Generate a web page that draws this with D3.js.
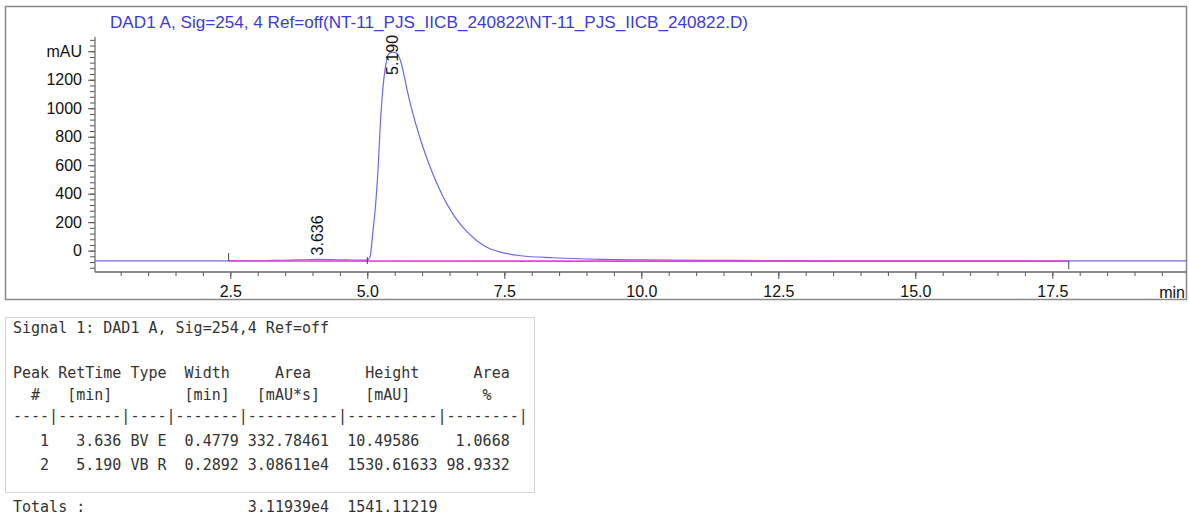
<!DOCTYPE html>
<html>
<head>
<meta charset="utf-8">
<script src="https://cdn.jsdelivr.net/npm/d3@7"></script>
<style>
  html, body { margin: 0; padding: 0; background: #fff; }
  svg { display: block; }
  .mono { font-family: "DejaVu Sans Mono", "Liberation Mono", monospace; font-size: 15px; fill: #333; white-space: pre; }
</style>
</head>
<body>
<svg id="chart" width="1189" height="517"></svg>
<script>
// ---- Signal trace (DAD1 A, 254 nm): retention time [min] and absorbance [mAU]
const traceTime = [0, 2.0, 2.5, 3.0, 3.3, 3.6, 3.9, 4.09, 4.3, 4.6, 4.9, 5.0, 5.05, 5.10, 5.16, 5.20, 5.23, 5.27,
  5.34, 5.38, 5.42, 5.46, 5.50, 5.54, 5.60, 5.66, 5.72, 5.80, 5.90, 6.00, 6.10, 6.20, 6.32, 6.45, 6.60,
  6.80, 7.00, 7.20, 7.45, 7.8, 8.4, 9.25, 10.0, 11.1, 12.5, 14.0, 15.5, 17.0, 18.0, 20.0];
const traceValue = [-72, -72, -72, -71, -69, -66, -64, -62, -63, -65, -67, -66, -45, 125, 362, 599, 836, 1073,
  1311, 1375, 1390, 1393, 1391, 1385, 1340, 1250, 1140, 1010, 870, 745, 635, 535, 430, 330, 235,
  140, 70, 20, -12, -36, -50, -61, -65, -68, -70, -71, -71, -72, -72, -72];

// ---- Integration baseline
const baselineTime = [2.47, 17.8];
const baselineValue = [-73, -74];

// ---- Integration results
const peakNo = [1, 2];
const peakRT = ["3.636", "5.190"];
const peakWindow = [[3.3, 5.0], [5.0, 7.5]];
const peakType = ["BV E", "VB R"];
const peakWidth = ["0.4779", "0.2892"];
const peakArea = ["332.78461", "3.08611e4"];
const peakHeight = ["10.49586", "1530.61633"];
const peakAreaPct = ["1.0668", "98.9332"];
const totalArea = "3.11939e4";
const totalHeight = "1541.11219";

// ---- Axis ticks
const xMajorTicks = [2.5, 5.0, 7.5, 10.0, 12.5, 15.0, 17.5];
const yMajorTicks = [0, 200, 400, 600, 800, 1000, 1200, 1400];

const titleText = "DAD1 A, Sig=254, 4 Ref=off(NT-11_PJS_IICB_240822\\NT-11_PJS_IICB_240822.D)";

const svg = d3.select("#chart");
const plot = { left: 95, right: 1187, top: 37, bottom: 272 };

const x = d3.scaleLinear().domain([0, 20]).range([93.3, 1189.3]);
const y = d3.scaleLinear().domain([-150, 1500]).range([plot.bottom, plot.top]);

// outer frame
svg.append("rect")
  .attr("x", 5.5).attr("y", 6.5).attr("width", 1181).attr("height", 293)
  .attr("fill", "none").attr("stroke", "#8a8a8a").attr("stroke-width", 1.5);

// title
svg.append("text")
  .attr("x", 110).attr("y", 28)
  .attr("font-family", "Liberation Sans, Arial, sans-serif")
  .attr("font-size", 17)
  .attr("textLength", 638)
  .attr("lengthAdjust", "spacingAndGlyphs")
  .attr("fill", "#3b3bdc")
  .text(titleText);

const axisFont = "Liberation Sans, Arial, sans-serif";

// y axis: minor ticks, then major ticks with labels
const yMinor = svg.append("g").attr("transform", `translate(${plot.left},0)`)
  .call(d3.axisLeft(y).tickValues(d3.range(-120, 1481, 40)).tickSize(5).tickFormat(""));
yMinor.select(".domain").remove();
yMinor.selectAll("line").attr("stroke", "#555");

const yMajor = svg.append("g").attr("transform", `translate(${plot.left},0)`)
  .call(d3.axisLeft(y).tickValues(yMajorTicks).tickSize(7).tickPadding(6)
    .tickFormat(d => d === 1400 ? "mAU" : d3.format("d")(d)));
yMajor.select(".domain").remove();
yMajor.selectAll("line").attr("stroke", "#555");
yMajor.selectAll("text").attr("font-family", axisFont).attr("font-size", 16).attr("fill", "#111");

// x axis
const xg = svg.append("g").attr("transform", `translate(0,${plot.bottom})`);
const xMinor = xg.append("g")
  .call(d3.axisBottom(x).tickValues(d3.range(0.5, 20, 0.5)).tickSize(4).tickFormat(""));
xMinor.select(".domain").remove();
xMinor.selectAll("line").attr("stroke", "#555");
const xMajor = xg.append("g")
  .call(d3.axisBottom(x).tickValues(xMajorTicks).tickSize(7).tickPadding(7).tickFormat(d3.format(".1f")));
xMajor.select(".domain").remove();
xMajor.selectAll("line").attr("stroke", "#555");
xMajor.selectAll("text").attr("font-family", axisFont).attr("font-size", 16).attr("fill", "#111");

svg.append("text")
  .attr("x", 1185).attr("y", 298).attr("text-anchor", "end")
  .attr("font-family", axisFont).attr("font-size", 16).attr("fill", "#111")
  .text("min");

// axis lines
svg.append("line").attr("x1", plot.left).attr("x2", plot.right)
  .attr("y1", plot.bottom).attr("y2", plot.bottom)
  .attr("stroke", "#666").attr("stroke-width", 1.5);
svg.append("line").attr("x1", plot.left).attr("x2", plot.left)
  .attr("y1", plot.top).attr("y2", plot.bottom)
  .attr("stroke", "#666").attr("stroke-width", 1.2);

// chromatogram
const tracePts = traceTime.map((t, i) => [t, traceValue[i]]);
const line = d3.line().x(d => x(d[0])).y(d => y(d[1])).curve(d3.curveMonotoneX);

svg.append("clipPath").attr("id", "plotClip")
  .append("rect").attr("x", plot.left).attr("y", plot.top - 5)
  .attr("width", plot.right - plot.left).attr("height", plot.bottom - plot.top + 5);

const gPlot = svg.append("g").attr("clip-path", "url(#plotClip)");

gPlot.append("path")
  .datum(tracePts)
  .attr("d", line)
  .attr("fill", "none")
  .attr("stroke", "#6a6af0")
  .attr("stroke-width", 1.2);

// integration baseline
gPlot.append("path")
  .datum(baselineTime.map((t, i) => [t, baselineValue[i]]))
  .attr("d", d3.line().x(d => x(d[0])).y(d => y(d[1])))
  .attr("fill", "none")
  .attr("stroke", "#f03cdc")
  .attr("stroke-width", 1.6);

// integration event marks (start, valley, end)
const yb0 = y(baselineValue[0]);
svg.append("line").attr("x1", x(baselineTime[0])).attr("x2", x(baselineTime[0]))
  .attr("y1", yb0 - 8).attr("y2", yb0).attr("stroke", "#444").attr("stroke-width", 1);
svg.append("line").attr("x1", x(5.0)).attr("x2", x(5.0))
  .attr("y1", y(-66) - 3).attr("y2", y(-66) + 4).attr("stroke", "#444").attr("stroke-width", 1);
const yb1 = y(baselineValue[1]);
svg.append("line").attr("x1", x(baselineTime[1])).attr("x2", x(baselineTime[1]))
  .attr("y1", yb1).attr("y2", yb1 + 8).attr("stroke", "#444").attr("stroke-width", 1);

// peak apex labels (rotated retention times), kept inside the plot area
peakRT.forEach((rt, i) => {
  const [lo, hi] = peakWindow[i];
  const inWin = tracePts.filter(p => p[0] >= lo && p[0] <= hi);
  const apex = inWin[d3.maxIndex(inWin, p => p[1])];
  const ax = x(apex[0]);
  const labelLen = 42;
  const startY = Math.max(y(apex[1]) - 4, plot.top - 4 + labelLen);
  svg.append("text")
    .attr("transform", `translate(${ax + 5.5},${startY}) rotate(-90)`)
    .attr("font-family", axisFont).attr("font-size", 16).attr("fill", "#111")
    .text(rt);
});

// ---- integration report table
const tx = 13;
const pad = (s, n) => s + " ".repeat(Math.max(0, n - s.length));
const lpad = (s, n) => " ".repeat(Math.max(0, n - s.length)) + s;

svg.append("rect")
  .attr("x", 5.5).attr("y", 317.5).attr("width", 529).attr("height", 175)
  .attr("fill", "none").attr("stroke", "#d4d4d4").attr("stroke-width", 1);

const rows = [];
rows.push({ y: 333, s: "Signal 1: DAD1 A, Sig=254,4 Ref=off" });
rows.push({ y: 378, s: "Peak RetTime Type  Width     Area      Height      Area" });
rows.push({ y: 400, s: "  #   [min]        [min]   [mAU*s]     [mAU]        %" });
rows.push({ y: 421, s: "----|-------|----|-------|----------|----------|--------|" });
peakNo.forEach((n, i) => {
  const s = lpad(String(n), 4) + lpad(peakRT[i], 8) + " " + peakType[i] + "  " + peakWidth[i] + " " +
    pad(peakArea[i], 9) + "  " + pad(peakHeight[i], 10) + " " + lpad(peakAreaPct[i], 7);
  rows.push({ y: 446 + i * 24, s });
});
rows.push({ y: 512, s: pad("Totals :", 26) + totalArea + "  " + totalHeight });

svg.append("g").selectAll("text").data(rows).join("text")
  .attr("class", "mono")
  .attr("x", tx).attr("y", d => d.y)
  .attr("xml:space", "preserve")
  .text(d => d.s);
</script>
</body>
</html>
